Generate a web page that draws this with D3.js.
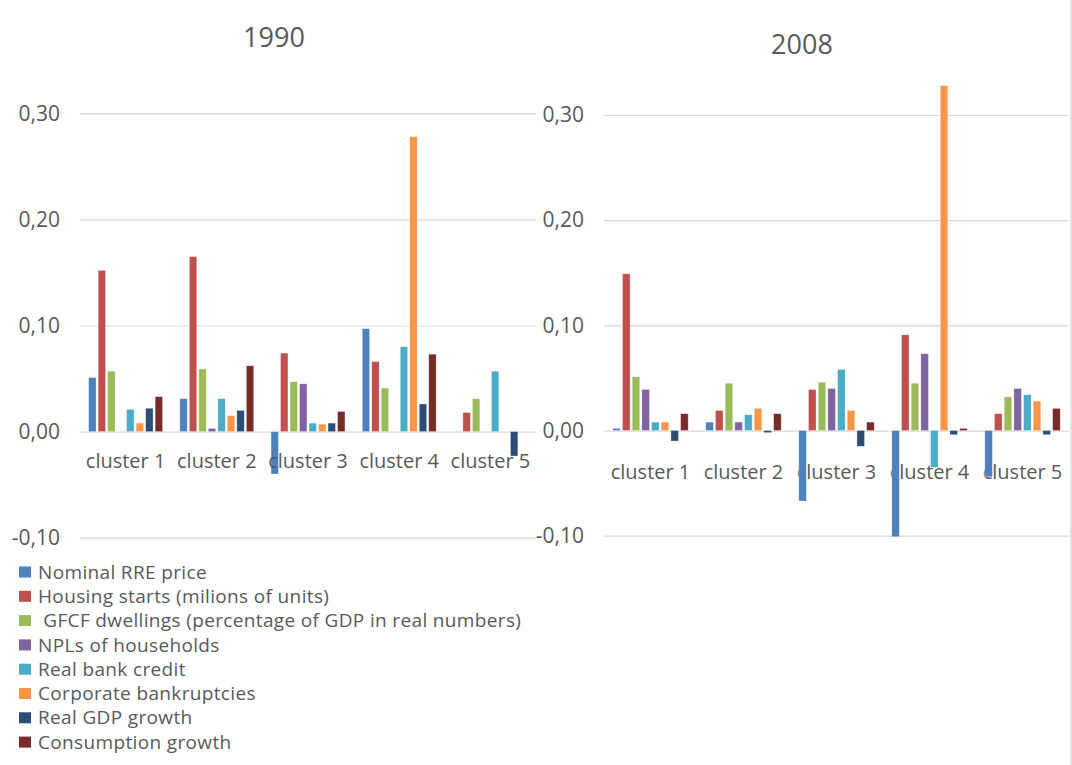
<!DOCTYPE html>
<html>
<head>
<meta charset="utf-8">
<script src="https://cdn.jsdelivr.net/npm/d3@7"></script>
<style>
  html, body { margin: 0; padding: 0; background: #fff; }
  svg { display: block; font-family: "Open Sans", "Noto Sans", sans-serif; }
</style>
</head>
<body>
<svg id="chart" width="1072" height="765"></svg>
<script>
// ---------- data ----------
const clusters = ["cluster 1", "cluster 2", "cluster 3", "cluster 4", "cluster 5"];
const seriesNames = [
  "Nominal RRE price",
  "Housing starts (milions of units)",
  " GFCF dwellings (percentage of GDP in real numbers)",
  "NPLs of households",
  "Real bank credit",
  "Corporate bankruptcies",
  "Real GDP growth",
  "Consumption growth"
];
const seriesColors = ["#4F81BD", "#C0504D", "#9BBB59", "#8064A2", "#4BACC6", "#F79646", "#2C4D75", "#772C2A"];
const yTicks = [-0.1, 0, 0.1, 0.2, 0.3];

// 1990 values, one array per series (cluster 1..5); null = no bar
const rre1990         = [0.051, 0.031, -0.040, 0.097, null];
const housing1990     = [0.152, 0.165, 0.074, 0.066, 0.018];
const gfcf1990        = [0.057, 0.059, 0.047, 0.041, 0.031];
const npl1990         = [null, 0.003, 0.045, null, null];
const credit1990      = [0.021, 0.031, 0.008, 0.080, 0.057];
const bankrupt1990    = [0.008, 0.015, 0.007, 0.278, null];
const gdp1990         = [0.022, 0.020, 0.008, 0.026, -0.023];
const consumption1990 = [0.033, 0.062, 0.019, 0.073, null];

// 2008 values
const rre2008         = [0.002, 0.008, -0.067, -0.101, -0.044];
const housing2008     = [0.149, 0.019, 0.039, 0.091, 0.016];
const gfcf2008        = [0.051, 0.045, 0.046, 0.045, 0.032];
const npl2008         = [0.039, 0.008, 0.040, 0.073, 0.040];
const credit2008      = [0.008, 0.015, 0.058, -0.035, 0.034];
const bankrupt2008    = [0.008, 0.021, 0.019, 0.328, 0.028];
const gdp2008         = [-0.010, -0.002, -0.015, -0.004, -0.004];
const consumption2008 = [0.016, 0.016, 0.008, 0.002, 0.021];

const data1990 = [rre1990, housing1990, gfcf1990, npl1990, credit1990, bankrupt1990, gdp1990, consumption1990];
const data2008 = [rre2008, housing2008, gfcf2008, npl2008, credit2008, bankrupt2008, gdp2008, consumption2008];

// ---------- drawing ----------
const svg = d3.select("#chart");
const textColor = "#595959";
const gridColor = "#d9d9d9";
const fmt = v => d3.format(".2f")(v).replace(".", ",").replace("−", "-");

function drawPanel(cfg) {
  const g = svg.append("g");
  const x0 = d3.scaleBand().domain(clusters).range([cfg.left, cfg.right]).padding(0);
  const step = x0.step();
  const x1 = d3.scaleBand().domain(d3.range(seriesNames.length))
    .range([step * 0.0833, step * 0.9167]).paddingInner(0.22).paddingOuter(0.11);
  const y = d3.scaleLinear().domain([-0.1, 0.3]).range([cfg.yBottom, cfg.yTop]);

  // gridlines + y labels
  const yAxis = d3.axisLeft(y).tickValues(yTicks).tickFormat(fmt)
    .tickSizeInner(-(cfg.right - cfg.left)).tickSizeOuter(0).tickPadding(20);
  const ya = g.append("g").attr("transform", `translate(${cfg.left},0)`).call(yAxis);
  ya.select(".domain").remove();
  ya.selectAll("line").attr("stroke", gridColor).attr("stroke-width", 1.2);
  ya.selectAll("text").attr("fill", textColor).style("font-size", "21px")
    .style("font-family", "'Open Sans', sans-serif");

  const drawLabels = () => {
    const xAxis = d3.axisBottom(x0).tickSize(0).tickPadding(cfg.labelPad);
    const xa = g.append("g").attr("transform", `translate(0,${y(0)})`).call(xAxis);
    xa.select(".domain").remove();
    xa.selectAll("text").attr("fill", textColor).style("font-size", "20px")
      .style("font-family", "'Open Sans', sans-serif");
  };
  if (!cfg.labelsOnTop) drawLabels();

  // bars
  const bars = [];
  cfg.data.forEach((arr, si) => {
    arr.forEach((v, ci) => {
      if (v !== null) bars.push({ s: si, c: clusters[ci], v: v });
    });
  });
  g.append("g").selectAll("rect").data(bars).join("rect")
    .attr("x", d => x0(d.c) + x1(d.s))
    .attr("width", x1.bandwidth())
    .attr("y", d => Math.min(y(d.v), y(0)))
    .attr("height", d => Math.abs(y(d.v) - y(0)))
    .attr("fill", d => seriesColors[d.s])
    .attr("stroke", "#ffffff").attr("stroke-opacity", 0.5).attr("stroke-width", 0.6);

  if (cfg.labelsOnTop) drawLabels();

  // title
  g.append("text").attr("x", cfg.titleX).attr("y", cfg.titleY)
    .attr("text-anchor", "middle").attr("fill", textColor)
    .style("font-size", "27px").text(cfg.title);
}

drawPanel({ title: "1990", data: data1990, left: 80, right: 536, yTop: 113.3, yBottom: 537.7,
            titleX: 274, titleY: 47, labelPad: 22, labelsOnTop: true });
drawPanel({ title: "2008", data: data2008, left: 604, right: 1069, yTop: 115, yBottom: 535.7,
            titleX: 802, titleY: 54, labelPad: 34, labelsOnTop: false });

// right chart border
svg.append("line").attr("x1", 1071).attr("x2", 1071).attr("y1", 0).attr("y2", 765)
  .attr("stroke", gridColor).attr("stroke-width", 1.5);

// legend
const legend = svg.append("g").attr("transform", "translate(19,572)");
const li = legend.selectAll("g").data(seriesNames).join("g")
  .attr("transform", (d, i) => `translate(0,${i * 24.3})`);
li.append("rect").attr("x", 0).attr("y", -5.5).attr("width", 12).attr("height", 11)
  .attr("fill", (d, i) => seriesColors[i]);
li.append("text").attr("x", 19).attr("y", 0).attr("dy", "0.35em")
  .attr("fill", textColor).style("font-size", "19px").style("letter-spacing", "0.35px")
  .style("white-space", "pre")
  .text(d => d);
</script>
</body>
</html>
